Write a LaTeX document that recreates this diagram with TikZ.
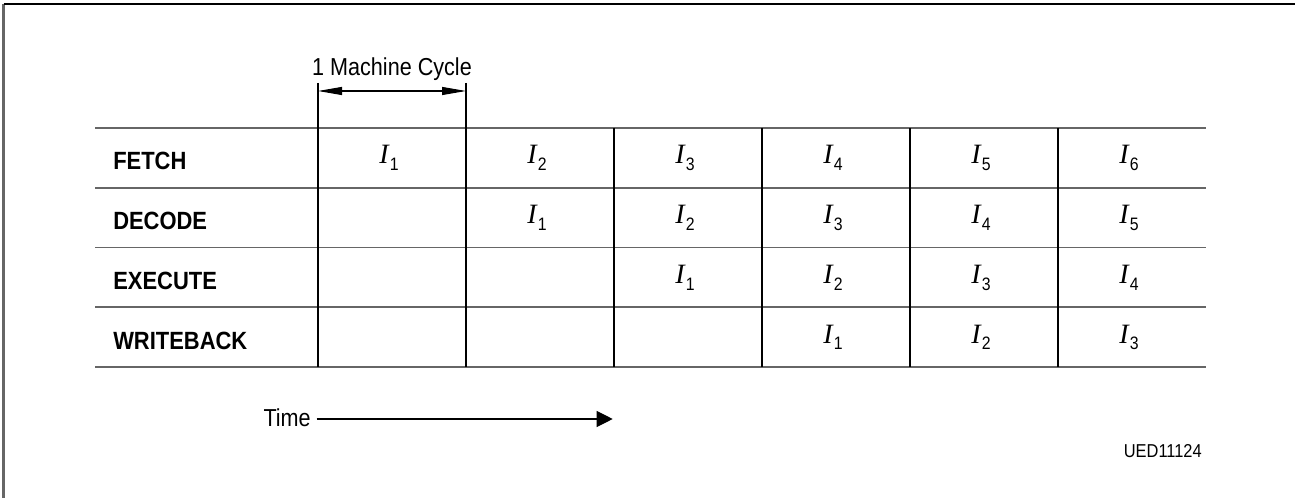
\documentclass[tikz,border=0pt]{standalone}
\usepackage{fontspec}
\setmainfont{Liberation Sans}[FakeStretch=0.88]
\newfontfamily\serifI{Liberation Serif}
\usetikzlibrary{arrows.meta}
\newcommand{\pinstr}[1]{{\serifI\itshape\fontsize{21}{24}\selectfont I}\kern1pt\raisebox{-5pt}{\fontsize{13.5}{16}\selectfont #1}}
\tikzset{
  hline/.style={draw=black!60, line width=1.3pt},
  vline/.style={draw=black, line width=0.8pt},
  rowlab/.style={anchor=base west, inner sep=0pt, font=\bfseries\fontsize{18.7}{22}\selectfont},
  instr/.style={anchor=base, inner sep=0pt},
  plain/.style={inner sep=0pt, font=\fontsize{18.4}{22}\selectfont},
  dimarrow/.style={draw=black, line width=0.8pt, {Triangle[length=18pt,width=6pt]}-{Triangle[length=18pt,width=6pt]}},
  timearrow/.style={draw=black, line width=0.8pt, -{Triangle[length=12pt,width=12pt]}},
}
\begin{document}
\begin{tikzpicture}[x=0.75pt,y=-0.75pt]
\useasboundingbox (0,0) rectangle (1295,498);
% frame
\draw[draw=black!60, line width=1.6pt] (3.5,498) -- (3.5,4.5);
\draw[draw=black, line width=1.5pt] (3.5,4.5) -- (1295,4.5);
% horizontal table lines
\foreach \k in {0,...,4} {
  \draw[hline] (95,{128+59.7*\k}) -- (1206,{128+59.7*\k});
}
% vertical table lines
\foreach \c in {0,...,5} {
  \draw[vline] ({318+148*\c},128) -- ({318+148*\c},366.8);
}
% dimension extensions
\coordinate (dL) at (318,83);
\coordinate (dR) at (466,83);
\draw[vline] (dL) -- (318,128);
\draw[vline] (dR) -- (466,128);
\coordinate (aL) at (318,91);
\coordinate (aR) at (466,91);
\draw[dimarrow] (aL) -- (aR);
\node[plain, anchor=base] (mc) at (392,75.7) {1 Machine Cycle};
% row labels
\foreach \r/\lab in {0/FETCH,1/DECODE,2/EXECUTE,3/WRITEBACK} {
  \node[rowlab] (lab\r) at (113,{170+59.7*\r}) {\lab};
}
% instructions
\foreach \r in {0,...,3} {
  \foreach \c in {\r,...,5} {
    \pgfmathtruncatemacro\n{\c-\r+1}
    \node[instr] (i\r\c) at ({389+148*\c},{164+59.7*\r}) {\pinstr{\n}};
  }
}
% time arrow
\node[plain, anchor=base east] (time) at (311,426.5) {Time};
\coordinate (tEnd) at (612.7,419);
\draw[timearrow] (time.east |- tEnd) ++(5.5,0) -- (tEnd);
% id
\node[inner sep=0pt, anchor=base east, font=\fontsize{14}{16}\selectfont] (uid) at (1202,457.3) {UED11124};
\end{tikzpicture}
\end{document}
